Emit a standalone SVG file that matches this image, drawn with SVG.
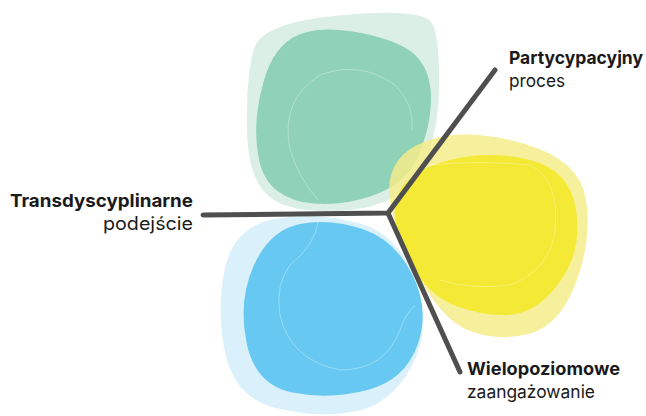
<svg xmlns="http://www.w3.org/2000/svg" width="646" height="416" viewBox="0 0 646 416">
<style>
.t{font-family:Inter,"Noto Sans","Liberation Sans",sans-serif;font-size:18px;fill:#1a1a1a}
.b{font-weight:700}
.ring{fill:none;stroke:#ffffff;stroke-width:0.8;stroke-opacity:0.4}
.conn{fill:none;stroke:#4f4f4f;stroke-width:5;stroke-linecap:round;stroke-linejoin:round}
</style>
<rect width="646" height="416" fill="#ffffff"/>
<g id="blob-green">
<path d="M254,48.5 Q262,22 343.5,15 Q425,8 432.5,24 Q440,40 439,90 Q438,140 419,172.5 Q400,205 350,210 Q300,215 274,200 Q248,185 247,130 Q246,75 254,48.5 Z" fill="#dcefe7"/>
<path d="M292,38 Q315,24 361.5,33 Q405,42 418.5,58.5 Q432,75 431,102.5 Q430,130 417.5,157.5 Q405,185 370,196.5 Q335,208 302.5,202 Q266,194 259,160 Q252,126 262,88 Q270,52 292,38 Z" fill="#8fd2b8"/>
<path d="M318,200 Q300,180 290,150 Q280,100 320,75 Q360,60 395,85 Q415,105 412,130" class="ring"/>
</g>
<g id="blob-blue">
<path d="M224,272.5 Q233,225 277.5,218.5 Q320,212 360,223.5 Q400,235 416,282.5 Q432,330 411,367.5 Q390,405 355,411.5 Q320,418 280,409 Q238,400 227,360 Q216,320 224,272.5 Z" fill="#d6eefa" fill-opacity="0.9"/>
<path d="M254,265 Q270,230 300,224 Q330,218 362.5,229 Q395,240 412.5,275 Q430,310 417.5,345 Q405,380 367.5,390 Q330,400 292.5,392.5 Q255,385 246.5,342.5 Q238,300 254,265 Z" fill="#67c9f1"/>
<path d="M318,222 Q315,245 290,265 Q275,285 280,315 Q290,360 340,370 Q385,370 400,330 Q405,315 415,305" class="ring"/>
</g>
<g id="blob-yellow">
<path d="M390,180 Q395,150 432.5,139 Q470,128 525,144 Q580,160 586,200 Q592,240 576,282.5 Q560,325 530,333.5 Q500,342 470,331 Q440,320 412.5,265 Q385,210 390,180 Z" fill="#f5ec8a" fill-opacity="0.85"/>
<path d="M399,192.5 Q410,170 450,160 Q490,150 530,160 Q570,170 576,210 Q582,250 561,280 Q540,310 515,314 Q490,318 457.5,306.5 Q425,295 406.5,255 Q388,215 399,192.5 Z" fill="#f4e934"/>
<path d="M430,165 Q480,160 530,165 Q560,180 555,230 Q550,270 510,285 Q470,290 440,280" class="ring" stroke-opacity="0.25"/>
</g>
<g id="connectors">
<path class="conn" d="M203,215 L388,213 L495,70"/>
<path class="conn" d="M388,213 L460,372"/>
</g>
<g id="label-transdyscyplinarne">
<text class="t b" x="193" y="207" text-anchor="end" textLength="183" lengthAdjust="spacingAndGlyphs">Transdyscyplinarne</text>
<text class="t" x="193" y="230" text-anchor="end" textLength="90" lengthAdjust="spacingAndGlyphs">podejście</text>
</g>
<g id="label-partycypacyjny">
<text class="t b" x="509" y="64" textLength="134" lengthAdjust="spacingAndGlyphs">Partycypacyjny</text>
<text class="t" x="509" y="87" textLength="56" lengthAdjust="spacingAndGlyphs">proces</text>
</g>
<g id="label-wielopoziomowe">
<text class="t b" x="467" y="375" textLength="153" lengthAdjust="spacingAndGlyphs">Wielopoziomowe</text>
<text class="t" x="467" y="398" textLength="128" lengthAdjust="spacingAndGlyphs">zaangażowanie</text>
</g>
</svg>
